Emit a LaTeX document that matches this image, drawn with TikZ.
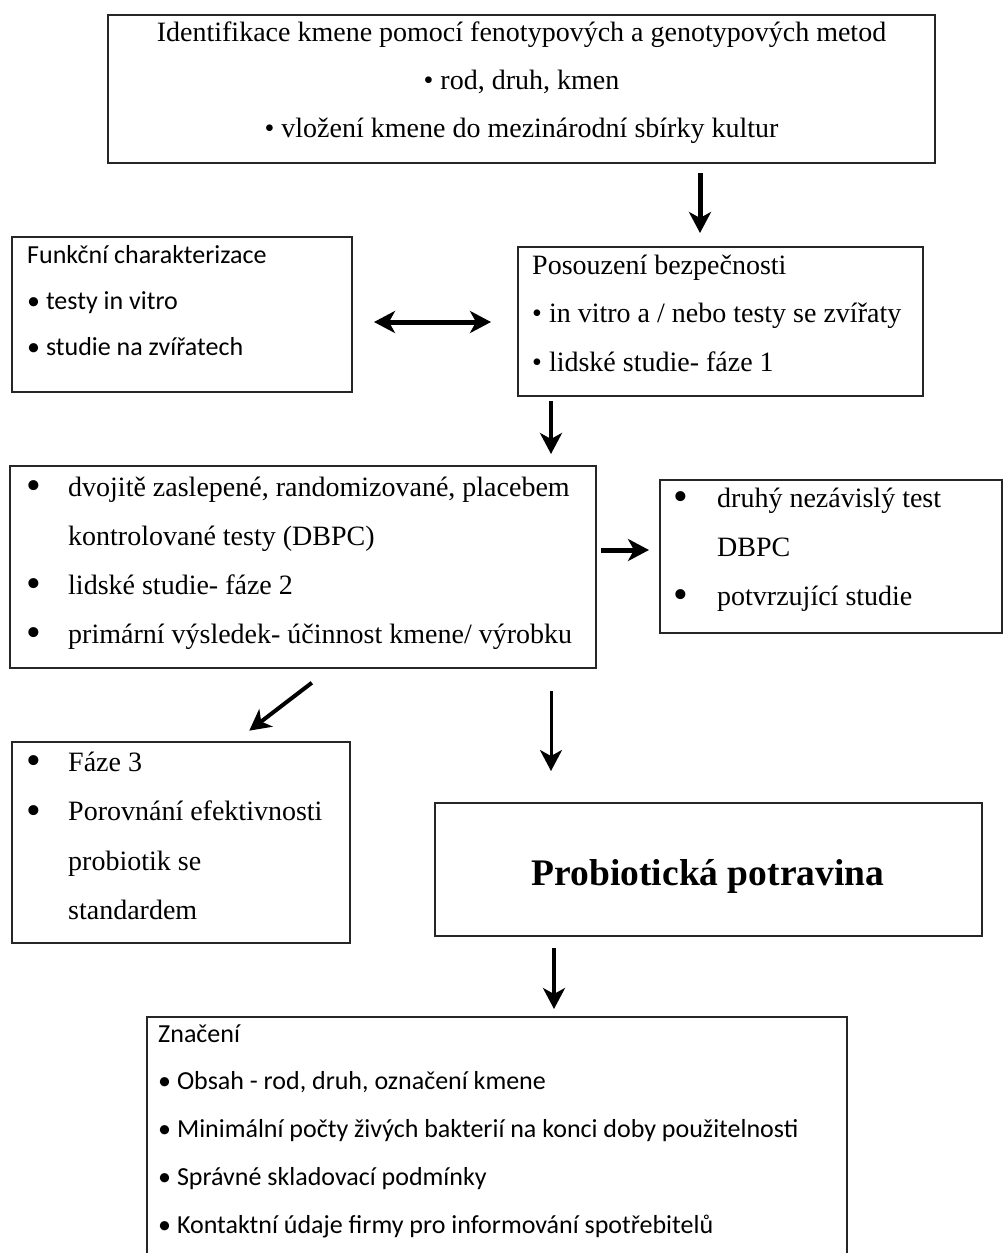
\documentclass[tikz,border=0pt]{standalone}
\usepackage{fontspec}
\setmainfont{Liberation Serif}
\newfontfamily\calib{Carlito}
\usetikzlibrary{arrows.meta}
\newcommand\bulw[1]{\makebox[#1][l]{\raisebox{-3.5pt}{\scalebox{1.5}{•}}}}
\newcommand\tstr{\rule{0pt}{30pt}}
\begin{document}
\begin{tikzpicture}[x=1pt,y=-1pt,
  box/.style={draw=black!85, line width=2pt, rectangle, inner sep=0pt},
  txt/.style={anchor=north west, inner sep=0pt, align=left},
  arr/.style={-{Stealth[length=21pt,width=22pt,inset=6pt]}, line width=4pt},
  darr/.style={{Stealth[length=21pt,width=22pt,inset=6pt]}-{Stealth[length=21pt,width=22pt,inset=6pt]}, line width=5pt},
]
\useasboundingbox (0,0) rectangle (1003,1253);
\fill[white] (0,0) rectangle (1003,1253);

% boxes
\node[box, minimum width=827pt, minimum height=148pt] (top) at (521.5,89) {};
\node[box, minimum width=340pt, minimum height=155pt] (fun) at (182,314.5) {};
\node[box, minimum width=405pt, minimum height=149pt] (pos) at (720.5,321.5) {};
\node[box, minimum width=586pt, minimum height=202pt] (dbpc) at (303,567) {};
\node[box, minimum width=342pt, minimum height=153pt] (dru) at (831,556.5) {};
\node[box, minimum width=338pt, minimum height=201pt] (faze) at (181,842.5) {};
\node[box, minimum width=547pt, minimum height=133pt] (prob) at (708.5,869.5) {};
\node[box, minimum width=700pt, minimum height=250pt] (zna) at (497,1142) {};

% texts
\node[anchor=north, inner sep=0pt, align=center, font=\fontsize{28}{48}\selectfont] (topt) at (521.5,11)
  {\tstr Identifikace kmene pomocí fenotypových a genotypových metod\\
   • rod, druh, kmen\\
   • vložení kmene do mezinárodní sbírky kultur};
\node[txt, font=\calib\fontsize{26}{46}\selectfont] (funt) at (27,233)
  {\tstr Funkční charakterizace\\
   • testy in vitro\\
   • studie na zvířatech};
\node[txt, font=\fontsize{28}{48.5}\selectfont] (post) at (532,244)
  {\tstr Posouzení bezpečnosti\\
   • in vitro a / nebo testy se zvířaty\\
   • lidské studie- fáze 1};
\node[txt, font=\fontsize{28}{49}\selectfont] (dbpct) at (26,466)
  {\tstr\bulw{42pt}dvojitě zaslepené, randomizované, placebem\\
   \hspace*{42pt}kontrolované testy (DBPC)\\
   \bulw{42pt}lidské studie- fáze 2\\
   \bulw{42pt}primární výsledek- účinnost kmene/ výrobku};
\node[txt, font=\fontsize{28}{49}\selectfont] (drut) at (673,477)
  {\tstr\bulw{44pt}druhý nezávislý test\\
   \hspace*{44pt}DBPC\\
   \bulw{44pt}potvrzující studie};
\node[txt, font=\fontsize{28}{49.5}\selectfont] (fazet) at (26,741)
  {\tstr\bulw{42pt}Fáze 3\\
   \bulw{42pt}Porovnání efektivnosti\\
   \hspace*{42pt}probiotik se\\
   \hspace*{42pt}standardem};
\node[anchor=base, inner sep=0pt, font=\fontsize{37.5}{40}\selectfont\bfseries] (probt) at (708,885)
  {Probiotická potravina};
\node[txt, font=\calib\fontsize{26}{47.7}\selectfont] (znat) at (158,1012)
  {\tstr Značení\\
   • Obsah - rod, druh, označení kmene\\
   • Minimální počty živých bakterií na konci doby použitelnosti\\
   • Správné skladovací podmínky\\
   • Kontaktní údaje firmy pro informování spotřebitelů};

% connectors
\draw[arr, line width=5pt, shorten <=9pt, shorten >=13pt] (top.south -| 700,0) -- (pos.north -| 700,0);
\draw[darr, shorten <=21pt, shorten >=26pt] (fun.east |- 0,322) -- (pos.west |- 0,322);
\draw[arr, shorten <=4pt, shorten >=11pt] (pos.south -| 551,0) -- (dbpc.north -| 551,0);
\draw[arr, line width=5pt, shorten <=4pt, shorten >=10pt] (dbpc.east |- 0,550) -- (dru.west |- 0,550);
\draw[arr, shorten <=22.6pt, shorten >=17pt] (dbpc.south -| 329.8,0) -- (faze.north -| 235.75,0);
\draw[arr, line width=3pt, shorten <=22pt, shorten >=31pt] (dbpc.south -| 551,0) -- (prob.north -| 551,0);
\draw[arr, shorten <=11pt, shorten >=7pt] (prob.south -| 554,0) -- (zna.north -| 554,0);
\end{tikzpicture}
\end{document}
